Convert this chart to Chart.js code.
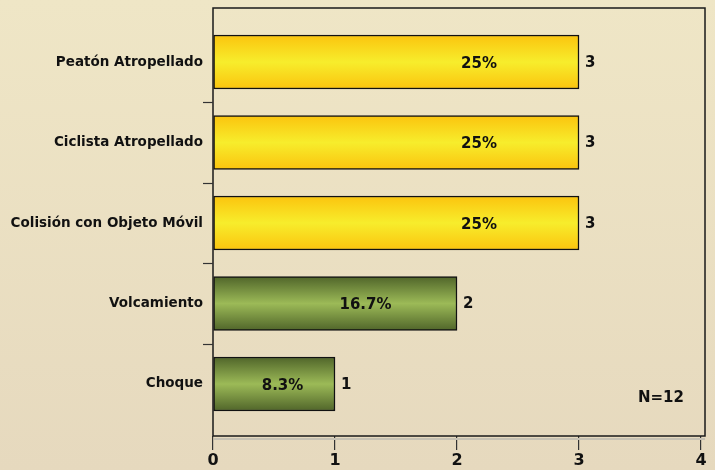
<!DOCTYPE html>
<html>
<head>
<meta charset="utf-8">
<script src="https://cdn.jsdelivr.net/npm/chart.js@4.4.1/dist/chart.umd.min.js"></script>
<style>
  html, body { margin: 0; padding: 0; background: #ebe0c2; }
  #wrap { width: 715px; height: 470px; position: relative; }
</style>
</head>
<body>
<div id="wrap"><canvas id="chart"></canvas></div>
<script>
// data
const categories = ['Peatón Atropellado', 'Ciclista Atropellado', 'Colisión con Objeto Móvil', 'Volcamiento', 'Choque'];
const counts = [3, 3, 3, 2, 1];
const barGroup = ['yellow', 'yellow', 'yellow', 'green', 'green'];
const xTicks = [0, 1, 2, 3, 4];
const total = 12;

const palette = {
  yellow: ['#fbc40e', '#f7ed2c'],
  green: ['#50652a', '#9cba57']
};

const FONT = '"DejaVu Sans", Verdana, sans-serif';

function barFill(ctx) {
  const chart = ctx.chart;
  if (!chart.chartArea || ctx.dataIndex === undefined) return '#f7d81c';
  const y = chart.scales.y.getPixelForValue(ctx.dataIndex);
  const c = palette[barGroup[ctx.dataIndex]];
  const g = chart.ctx.createLinearGradient(0, y - 27, 0, y + 27);
  g.addColorStop(0, c[0]);
  g.addColorStop(0.5, c[1]);
  g.addColorStop(1, c[0]);
  return g;
}

// background, frame, category ticks and labels
const decor = {
  id: 'decor',
  beforeDraw(chart) {
    const { ctx, width, height } = chart;
    const g = ctx.createLinearGradient(0, 0, 0, height);
    g.addColorStop(0, '#efe6c6');
    g.addColorStop(1, '#e6d9be');
    ctx.save();
    ctx.fillStyle = g;
    ctx.fillRect(0, 0, width, height);
    ctx.restore();
  },
  afterDatasetsDraw(chart) {
    const { ctx, chartArea: a, scales } = chart;
    const meta = chart.getDatasetMeta(0);
    ctx.save();
    // soft shadow under the floor of the frame
    ctx.strokeStyle = '#c6c1b3';
    ctx.lineWidth = 2;
    ctx.beginPath();
    ctx.moveTo(a.left + 1, a.bottom + 3);
    ctx.lineTo(a.right + 4, a.bottom + 3);
    ctx.stroke();
    // frame
    ctx.strokeStyle = '#1a1a1a';
    ctx.lineWidth = 1.5;
    ctx.strokeRect(a.left, a.top, a.right - a.left + 4, a.bottom - a.top);
    // ticks between categories
    ctx.strokeStyle = '#333';
    ctx.lineWidth = 1.2;
    for (let i = 0; i < categories.length - 1; i++) {
      const y = Math.round(scales.y.getPixelForValue(i + 0.5)) + 0.5;
      ctx.beginPath();
      ctx.moveTo(a.left - 10, y);
      ctx.lineTo(a.left, y);
      ctx.stroke();
    }
    // value labels and percentages
    const pctAt = [2.18, 2.18, 2.18, 1.25, 0.57];
    ctx.fillStyle = '#111';
    ctx.textBaseline = 'middle';
    meta.data.forEach((bar, i) => {
      ctx.font = 'bold 15px ' + FONT;
      ctx.textAlign = 'left';
      ctx.fillText(String(counts[i]), bar.x + 6, bar.y + 1);
      const pct = Math.round(counts[i] / total * 1000) / 10;
      ctx.textAlign = 'center';
      ctx.fillText(pct + '%', scales.x.getPixelForValue(pctAt[i]), bar.y + 2);
    });
    ctx.fillText('N=' + total, a.right - 40, a.bottom - 38);
    ctx.restore();
  }
};

new Chart(document.getElementById('chart'), {
  type: 'bar',
  data: {
    labels: categories,
    datasets: [{
      data: counts.map((v, i) => ({ x: v, y: i })),
      backgroundColor: barFill,
      borderColor: '#111',
      borderWidth: 1.5,
      borderSkipped: false,
      barThickness: 54
    }]
  },
  options: {
    indexAxis: 'y',
    responsive: true,
    maintainAspectRatio: false,
    animation: false,
    layout: { padding: { top: 8, right: 14, left: 0, bottom: 0 } },
    plugins: { legend: { display: false }, tooltip: { enabled: false } },
    scales: {
      x: {
        type: 'linear',
        min: 0,
        max: 4,
        afterBuildTicks: (s) => { s.ticks = xTicks.map(v => ({ value: v })); },
        border: { display: false },
        grid: { drawOnChartArea: false, drawTicks: true, tickLength: 14, color: '#333', lineWidth: 1.2 },
        ticks: { color: '#111', padding: 1, font: { family: FONT, size: 16, weight: 'bold' } },
        afterFit: (s) => { s.height = 34; s.paddingLeft = 0; s.paddingRight = 0; }
      },
      y: {
        type: 'linear',
        reverse: true,
        offset: false,
        min: -0.671,
        max: 4.646,
        afterBuildTicks: (s) => { s.ticks = categories.map((c, i) => ({ value: i })); },
        border: { display: false },
        grid: { display: false, drawTicks: false },
        ticks: {
          color: '#111',
          padding: 10,
          font: { family: FONT, size: 13.5, weight: 'bold' },
          callback: (v) => categories[v]
        },
        afterFit: (s) => { s.width = 213; s.paddingTop = 0; s.paddingBottom = 0; }
      }
    }
  },
  plugins: [decor]
});
</script>
</body>
</html>
